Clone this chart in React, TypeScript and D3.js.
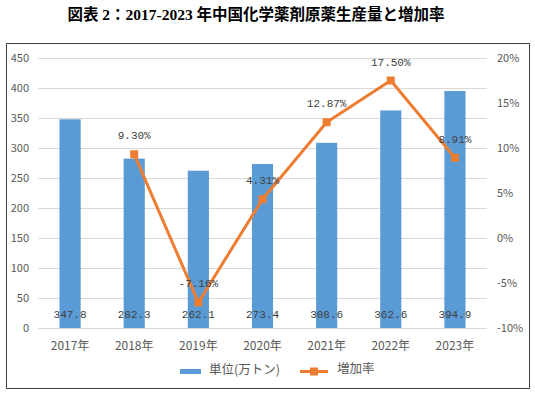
import React, { useEffect, useRef } from 'react';
import * as d3 from 'd3';

const years = ['2017年', '2018年', '2019年', '2020年', '2021年', '2022年', '2023年'];
const output = [347.8, 282.3, 262.1, 273.4, 308.6, 362.6, 394.9];
const growth = [null, 9.3, -7.16, 4.31, 12.87, 17.5, 8.91];
const leftTicks = [0, 50, 100, 150, 200, 250, 300, 350, 400, 450];
const rightTicks = [-10, -5, 0, 5, 10, 15, 20];

const W = 535;
const H = 394;
const BLUE = '#5B9BD5';
const ORANGE = '#ED7D31';
const SANS = '"Noto Sans CJK SC", "Noto Sans", sans-serif';
const MONO = '"Liberation Mono", "DejaVu Sans Mono", monospace';

export default function App() {
  const ref = useRef<SVGSVGElement>(null);

  useEffect(() => {
    const svg = d3.select(ref.current);
    svg.selectAll('*').remove();

    const left = 38, right = 487, top = 58, bottom = 328;

    const x = d3.scaleBand().domain(years).range([left, right]).paddingInner(0.67).paddingOuter(0.335);
    const xc = (d: string) => (x(d) as number) + x.bandwidth() / 2;
    const y = d3.scaleLinear().domain([0, 450]).range([bottom, top]);
    const y2 = d3.scaleLinear().domain([-10, 20]).range([bottom, top]);

    // title
    svg.append('text')
      .attr('x', 256).attr('y', 20)
      .attr('text-anchor', 'middle')
      .attr('font-family', '"Liberation Serif", "Noto Sans CJK JP", serif')
      .attr('font-weight', 'bold')
      .attr('font-size', 15.5)
      .attr('fill', '#000')
      .text('図表 2：2017-2023 年中国化学薬剤原薬生産量と増加率');

    // frame
    svg.append('rect')
      .attr('x', 6.5).attr('y', 43.5).attr('width', 523).attr('height', 345)
      .attr('fill', '#fff').attr('stroke', '#404040').attr('stroke-width', 1);

    // grid
    svg.append('g').selectAll('line').data(leftTicks).enter().append('line')
      .attr('x1', left).attr('x2', right)
      .attr('y1', d => Math.round(y(d)) + 0.5).attr('y2', d => Math.round(y(d)) + 0.5)
      .attr('stroke', '#D9D9D9').attr('stroke-width', 1);

    // left ticks
    svg.append('g').selectAll('text').data(leftTicks).enter().append('text')
      .attr('x', 29).attr('y', d => y(d) + 4)
      .attr('text-anchor', 'end')
      .attr('font-family', SANS).attr('font-size', 11).attr('fill', '#595959')
      .text(d => d);

    // right ticks
    svg.append('g').selectAll('text').data(rightTicks).enter().append('text')
      .attr('x', 497).attr('y', d => y2(d) + 4)
      .attr('text-anchor', 'start')
      .attr('font-family', SANS).attr('font-size', 11).attr('fill', '#595959')
      .text(d => d + '%');

    // x labels
    svg.append('g').selectAll('text').data(years).enter().append('text')
      .attr('x', d => xc(d)).attr('y', 350)
      .attr('text-anchor', 'middle')
      .attr('font-family', SANS).attr('font-size', 12).attr('fill', '#595959')
      .text(d => d);

    // bars
    svg.append('g').selectAll('rect').data(output).enter().append('rect')
      .attr('x', (d, i) => x(years[i]) as number)
      .attr('y', d => y(d))
      .attr('width', x.bandwidth())
      .attr('height', d => bottom - y(d))
      .attr('fill', BLUE);

    // bar labels
    svg.append('g').selectAll('text').data(output).enter().append('text')
      .attr('x', (d, i) => xc(years[i])).attr('y', 318)
      .attr('text-anchor', 'middle')
      .attr('font-family', MONO).attr('font-size', 11).attr('fill', '#404040')
      .text(d => d.toFixed(1));

    // line
    const pts = growth.map((g, i) => ({ g, yr: years[i] })).filter(p => p.g !== null) as { g: number; yr: string }[];
    const line = d3.line<{ g: number; yr: string }>().x(p => xc(p.yr)).y(p => y2(p.g));
    svg.append('path').datum(pts)
      .attr('d', line)
      .attr('fill', 'none').attr('stroke', ORANGE).attr('stroke-width', 3)
      .attr('stroke-linejoin', 'round').attr('stroke-linecap', 'round');

    svg.append('g').selectAll('rect').data(pts).enter().append('rect')
      .attr('x', p => xc(p.yr) - 4).attr('y', p => y2(p.g) - 4)
      .attr('width', 8).attr('height', 8)
      .attr('fill', ORANGE);

    svg.append('g').selectAll('text').data(pts).enter().append('text')
      .attr('x', p => xc(p.yr)).attr('y', p => y2(p.g) - 15)
      .attr('text-anchor', 'middle')
      .attr('font-family', MONO).attr('font-size', 11).attr('fill', '#404040')
      .text(p => p.g.toFixed(2) + '%');

    // legend
    const lg = svg.append('g');
    lg.append('rect').attr('x', 180).attr('y', 369).attr('width', 21).attr('height', 5).attr('fill', BLUE);
    lg.append('text').attr('x', 209).attr('y', 374)
      .attr('font-family', SANS).attr('font-size', 12.5).attr('fill', '#595959')
      .text('単位(万トン)');
    lg.append('line').attr('x1', 300).attr('x2', 328).attr('y1', 371.5).attr('y2', 371.5)
      .attr('stroke', ORANGE).attr('stroke-width', 3);
    lg.append('rect').attr('x', 310).attr('y', 367.5).attr('width', 8).attr('height', 8).attr('fill', ORANGE);
    lg.append('text').attr('x', 337).attr('y', 373)
      .attr('font-family', SANS).attr('font-size', 12.5).attr('fill', '#595959')
      .text('増加率');
  }, []);

  return (
    <svg ref={ref} width={W} height={H}
      style={{ position: 'absolute', left: 0, top: 0, background: '#fff' }} />
  );
}
